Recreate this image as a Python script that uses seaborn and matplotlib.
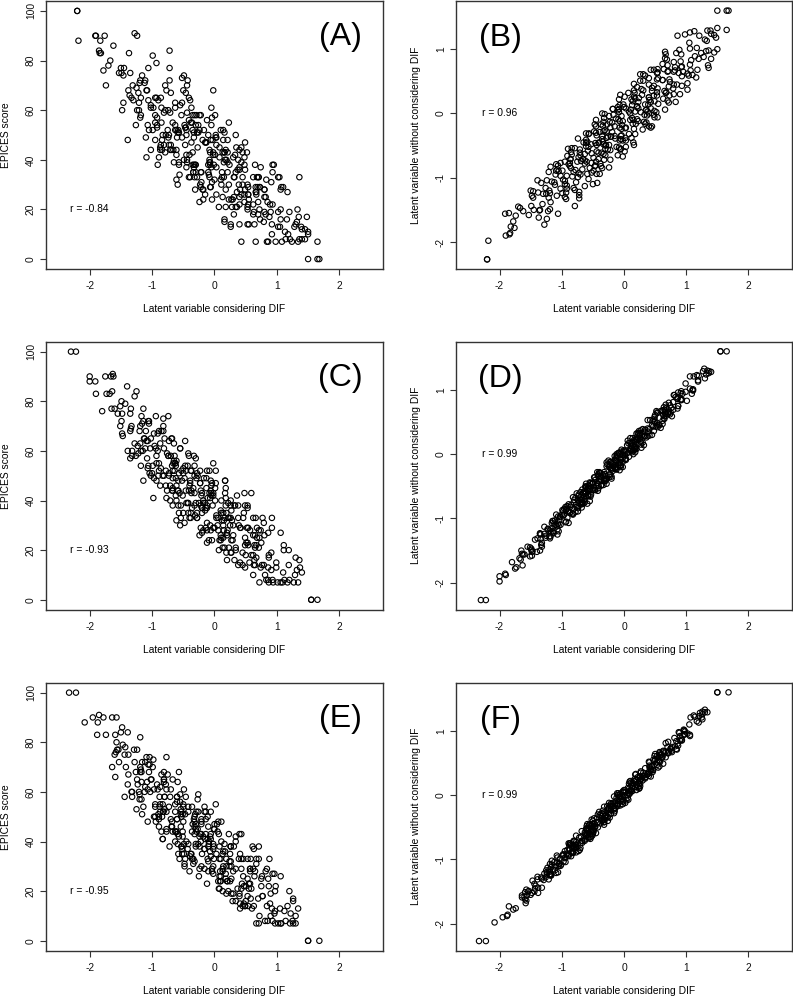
import matplotlib
matplotlib.use("Agg")
import matplotlib.pyplot as plt
import seaborn as sns
import pandas as pd

# latent variable without considering DIF (y of right panels)
lat0 = [
    -2.27, -2.27, -1.98, -1.90, -1.88, -1.86, -1.78, -1.76,
    -1.62, -1.59, -1.64, -1.58,
    -1.55, -1.51, -1.56, -1.52, -1.49,
    -1.44, -1.38, -1.45, -1.41,
    -1.32, -1.28, -1.25, -1.30, -1.24, -1.31,
    -1.19, -1.24, -1.20, -1.17, -1.22, -1.16, -1.23,
    -1.07, -1.12, -1.08, -1.05, -1.10, -1.04, -1.11,
    -0.94, -0.99, -0.95, -0.92, -0.97, -0.91, -0.98, -0.94,
    -0.89, -0.85, -0.82, -0.87, -0.81, -0.88, -0.84, -0.89, -0.85, -0.82,
    -0.77, -0.71, -0.78, -0.74, -0.79, -0.75, -0.72, -0.77, -0.71,
    -0.65, -0.61, -0.66, -0.62, -0.59, -0.64, -0.58, -0.65, -0.61,
    -0.56, -0.52, -0.49, -0.54, -0.48, -0.55, -0.51, -0.56, -0.52, -0.49, -0.54,
    -0.38, -0.45, -0.41, -0.46, -0.42, -0.39, -0.44, -0.38, -0.45,
    -0.31, -0.36, -0.32, -0.29, -0.34, -0.28, -0.35, -0.31, -0.36,
    -0.20, -0.17, -0.22, -0.16, -0.23, -0.19, -0.24, -0.20, -0.17, -0.22, -0.16,
    -0.13, -0.09, -0.14, -0.10, -0.07, -0.12, -0.06, -0.13, -0.09,
    -0.02, 0.02, 0.05, 0.00, 0.06, -0.01, 0.03, -0.02, 0.02, 0.05,
    0.08, 0.14, 0.07, 0.11, 0.06, 0.10, 0.13, 0.08, 0.14, 0.07,
    0.23, 0.18, 0.22, 0.25, 0.20, 0.26, 0.19, 0.23,
    0.28, 0.32, 0.35, 0.30, 0.36, 0.29, 0.33, 0.28, 0.32,
    0.45, 0.40, 0.46, 0.39, 0.43, 0.38, 0.42, 0.45,
    0.53, 0.59, 0.52, 0.56, 0.51, 0.55, 0.58,
    0.63, 0.69, 0.62, 0.66, 0.61, 0.65, 0.68, 0.63,
    0.76, 0.69, 0.73, 0.68, 0.72, 0.75,
    0.86, 0.92, 0.85, 0.89, 0.84, 0.88,
    1.01, 0.96, 1.02, 0.95, 0.99, 0.94,
    1.10, 1.13,
    1.23, 1.29, 1.22, 1.26, 1.21,
    1.30, 1.33, 1.28,
    1.60, 1.60, 1.60,
    # second block of respondents
    -1.68, -1.73,
    -1.50, -1.56, -1.52,
    -1.50, -1.44, -1.47,
    -1.28, -1.33, -1.25, -1.31, -1.27,
    -1.23, -1.17, -1.20, -1.16, -1.21, -1.13,
    -1.06, -1.02, -1.10, -1.04, -1.07, -1.03, -1.08,
    -0.87, -0.93, -0.89, -0.97, -0.91, -0.94, -0.90, -0.95,
    -0.75, -0.81, -0.77, -0.85, -0.79, -0.82, -0.78, -0.83, -0.75,
    -0.71, -0.67, -0.75, -0.69, -0.72, -0.68, -0.73, -0.65, -0.71,
    -0.55, -0.63, -0.57, -0.60, -0.56, -0.61, -0.53, -0.59, -0.55, -0.63,
    -0.46, -0.49, -0.45, -0.50, -0.42, -0.48, -0.44, -0.52, -0.46, -0.49,
    -0.35, -0.40, -0.32, -0.38, -0.34, -0.42, -0.36, -0.39, -0.35, -0.40,
    -0.22, -0.28, -0.24, -0.32, -0.26, -0.29, -0.25, -0.30, -0.22, -0.28,
    -0.12, -0.20, -0.14, -0.17, -0.13, -0.18, -0.10, -0.16, -0.12, -0.20,
    -0.04, -0.07, -0.03, -0.08, 0.00, -0.06, -0.02, -0.10, -0.04,
    0.03, 0.07, 0.02, 0.10, 0.04, 0.08, 0.00, 0.06, 0.03,
    0.18, 0.13, 0.21, 0.15, 0.19, 0.11, 0.17, 0.14, 0.18,
    0.24, 0.32, 0.26, 0.30, 0.22, 0.28, 0.25, 0.29,
    0.35, 0.43, 0.37, 0.41, 0.33, 0.39, 0.36,
    0.52, 0.47, 0.55, 0.49, 0.53, 0.45, 0.51,
    0.60, 0.64, 0.59, 0.67, 0.61, 0.65,
    0.65, 0.71, 0.68, 0.72, 0.67, 0.75,
    0.81, 0.85, 0.77, 0.83, 0.80,
    0.97, 0.92, 1.00, 0.94, 0.98,
    1.15, 1.21, 1.18,
    1.29, 1.24,
]

# latent variable considering DIF, model of panels A/B
dif_ab = [
    -2.20, -2.20, -2.18, -1.90, -1.84, -1.83, -1.76, -1.82,
    -1.37, -1.74, -1.24, -1.53,
    -1.85, -1.36, -1.06, -1.62, -1.19,
    -1.49, -1.18, -1.70, -1.31,
    -0.72, -1.48, -1.25, -0.95, -0.99, -1.46,
    -0.79, -1.19, -1.50, -1.02, -0.72, -1.26, -0.93,
    -1.12, -0.92, -1.33, -0.95, -0.50, -1.24, -1.11,
    -0.59, -0.74, -1.10, -0.52, -0.92, -1.21, -0.83, -0.44,
    -0.99, -0.55, -0.87, -0.67, -1.06, -0.78, -0.24, -1.09, -0.85, -0.47,
    -0.52, -0.86, -0.38, -0.69, -1.09, -0.60, -0.22, -0.87, -0.41,
    -0.70, -0.41, -0.91, -0.52, 0.01, -0.84, -0.58, -0.30, -0.36,
    -0.71, -0.12, -0.44, -0.84, -0.33, -0.05, -0.61, -0.26, -0.57, -0.29, -0.79,
    -0.28, 0.15, -0.61, -0.46, -0.07, -0.14, -0.59, 0.02, -0.40,
    -0.61, -0.21, 0.18, -0.39, -0.04, -0.33, -0.15, -0.56, -0.26,
    0.40, -0.37, -0.22, 0.19, 0.02, -0.34, 0.16, -0.15, -0.47, -0.07, 0.34,
    -0.23, 0.21, -0.19, 0.10, -0.32, -0.02, 0.54, -0.33, -0.09,
    0.33, 0.27, -0.10, 0.40, 0.11, -0.31, 0.18, 0.48, -0.08, 0.35,
    0.03, 0.34, -0.18, 0.21, 0.66, -0.10, 0.13, 0.43, 0.39, -0.08,
    0.63, 0.23, -0.08, 0.40, 0.70, 0.16, 0.49, 0.18,
    0.48, 0.07, 0.45, 0.90, 0.16, 0.29, 0.68, 0.53, 0.17,
    0.85, 0.45, 0.16, 0.54, 0.93, 0.28, 0.72, 0.40,
    0.73, 0.34, 0.62, 1.16, 0.31, 0.55, 0.93,
    0.88, 0.54, 1.02, 0.71, 0.31, 0.80, 1.18, 0.53,
    1.06, 0.64, 0.93, 0.43, 0.82, 1.35,
    0.66, 0.92, 1.20, 1.14, 0.69, 1.28,
    1.06, 0.66, 1.17, 1.45, 0.89, 1.24,
    1.05, 1.33,
    0.98, 1.39, 1.45, 1.06, 1.21,
    1.65, 1.50, 1.13,
    1.50, 1.65, 1.68,
    # second block
    -1.78, -1.28,
    -1.35, -1.91, -1.22,
    -1.45, -0.79, -1.67,
    -1.08, -0.93, -1.30, -1.21, -0.72,
    -1.38, -0.92, -1.20, -0.81, -1.46, -0.63,
    -1.16, -0.57, -0.95, -1.39, -0.77, -0.98, -0.43,
    -1.07, -0.73, -0.49, -1.02, -0.81, -0.39, -1.05, -0.70,
    -0.75, -0.46, -1.02, -0.35, -0.89, -0.37, -0.63, -1.18, -0.45,
    -0.66, -0.02, -0.95, -0.49, -0.32, -0.73, -0.63, -0.10, -0.86,
    -0.30, -0.63, -0.22, -0.85, -0.06, -0.71, -0.08, -0.44, -0.90, -0.33,
    -0.41, 0.16, -0.65, -0.30, -0.02, -0.53, -0.34, 0.03, -0.61, -0.24,
    -0.35, -0.05, -0.57, 0.12, -0.44, 0.03, -0.21, -0.74, -0.05, -0.35,
    0.43, -0.48, -0.04, 0.08, -0.31, -0.19, 0.30, -0.45, 0.03, -0.28,
    0.23, -0.45, 0.36, -0.27, 0.32, -0.03, -0.45, 0.14, -0.07, 0.45,
    -0.24, 0.13, 0.37, -0.13, 0.10, 0.49, -0.17, 0.15, -0.04,
    0.38, -0.18, 0.52, 0.00, 0.49, 0.23, -0.35, 0.36, 0.08,
    0.83, -0.07, 0.41, 0.55, 0.14, 0.21, 0.72, -0.01, 0.43,
    0.24, 0.67, 0.01, 0.80, 0.12, 0.73, 0.40, -0.06,
    0.65, 0.48, 1.02, 0.21, 0.53, 0.79, 0.31,
    0.62, 1.02, 0.40, 0.74, 0.53, 0.80, 0.26,
    1.10, 0.54, 1.04, 0.82, 0.26, 0.95,
    0.70, 1.36, 0.48, 0.92, 1.07, 0.70,
    0.91, 1.40, 0.62, 1.08, 0.80,
    1.32, 0.67, 1.50, 0.84, 1.36,
    1.30, 0.86, 1.48,
    1.34, 1.40,
]

# latent variable considering DIF, model of panels C/D
dif_cd = [
    -2.30, -2.22, -2.00, -2.00, -1.90, -1.91, -1.75, -1.73,
    -1.68, -1.51, -1.66, -1.48,
    -1.64, -1.47, -1.60, -1.40, -1.49,
    -1.55, -1.32, -1.51, -1.33,
    -1.34, -1.18, -1.34, -1.26, -1.28, -1.19,
    -1.19, -1.35, -1.14, -1.23, -1.14, -1.18, -1.13,
    -1.16, -1.08, -1.12, -0.93, -1.10, -1.15, -1.05,
    -1.00, -0.91, -0.97, -0.82, -1.06, -0.87, -1.02, -0.82,
    -0.89, -0.96, -0.76, -0.93, -0.73, -0.90, -0.74, -0.98, -0.81, -0.86,
    -0.65, -0.71, -0.89, -0.68, -0.85, -0.67, -0.74, -0.67, -0.80,
    -0.61, -0.65, -0.54, -0.62, -0.70, -0.58, -0.64, -0.57, -0.63,
    -0.46, -0.61, -0.45, -0.58, -0.36, -0.55, -0.62, -0.50, -0.58, -0.41, -0.56,
    -0.28, -0.54, -0.37, -0.50, -0.30, -0.39, -0.55, -0.32, -0.51,
    -0.23, -0.38, -0.22, -0.38, -0.30, -0.32, -0.23, -0.31, -0.47,
    -0.14, -0.23, -0.14, -0.18, -0.13, -0.28, -0.20, -0.24, -0.05, -0.22, -0.27,
    -0.07, -0.15, -0.06, -0.12, 0.03, -0.21, -0.02, -0.17, 0.03,
    -0.02, -0.09, 0.11, -0.06, 0.14, -0.03, 0.13, -0.11, 0.06, 0.01,
    0.20, 0.14, -0.04, 0.17, 0.00, 0.18, 0.11, 0.18, 0.05, 0.11,
    0.19, 0.30, 0.22, 0.14, 0.26, 0.20, 0.27, 0.21,
    0.38, 0.23, 0.39, 0.26, 0.48, 0.29, 0.22, 0.34, 0.26,
    0.53, 0.38, 0.56, 0.30, 0.47, 0.34, 0.54, 0.45,
    0.42, 0.65, 0.46, 0.64, 0.49, 0.65, 0.49,
    0.67, 0.65, 0.74, 0.66, 0.50, 0.71, 0.62, 0.71,
    0.74, 0.79, 0.64, 0.72, 0.68, 0.87,
    0.86, 0.81, 0.91, 0.83, 0.92, 0.86,
    1.11, 0.87, 1.06, 0.91, 1.11, 0.94,
    0.99, 1.19,
    1.17, 1.37, 1.20, 1.36, 1.12,
    1.34, 1.29, 1.40,
    1.55, 1.65, 1.55,
    # second block
    -1.80, -1.63,
    -1.35, -1.62, -1.48,
    -1.65, -1.32, -1.49,
    -1.20, -1.43, -1.07, -1.39, -1.25,
    -1.35, -1.07, -1.05, -1.22, -1.17, -1.28,
    -0.94, -1.04, -1.02, -1.14, -0.89, -1.11, -1.06,
    -0.99, -0.83, -0.74, -1.03, -0.87, -1.09, -0.78, -0.97,
    -0.67, -0.91, -0.59, -0.93, -0.77, -0.94, -0.68, -0.68, -0.81,
    -0.67, -0.82, -0.63, -0.71, -0.64, -0.78, -0.55, -0.73, -0.69,
    -0.67, -0.53, -0.42, -0.66, -0.52, -0.76, -0.41, -0.61, -0.47, -0.73,
    -0.28, -0.57, -0.43, -0.62, -0.32, -0.33, -0.50, -0.48, -0.61, -0.37,
    -0.37, -0.32, -0.42, -0.20, -0.42, -0.40, -0.48, -0.29, -0.20, -0.46,
    -0.18, -0.43, -0.12, -0.34, -0.18, -0.39, -0.07, -0.38, -0.20, -0.40,
    -0.02, -0.05, -0.20, -0.13, -0.28, -0.06, -0.12, -0.08, -0.22, -0.02,
    -0.12, -0.05, -0.15, 0.02, 0.15, -0.12, 0.02, -0.25, 0.08,
    0.01, 0.15, -0.08, 0.28, -0.04, 0.10, -0.12, 0.16, 0.18,
    0.12, 0.17, 0.06, 0.27, 0.17, 0.19, 0.07, 0.32, 0.10,
    0.26, 0.20, 0.36, 0.45, 0.16, 0.32, 0.10, 0.41,
    0.33, 0.51, 0.27, 0.59, 0.25, 0.41, 0.24,
    0.62, 0.62, 0.49, 0.53, 0.38, 0.57, 0.49,
    0.68, 0.54, 0.77, 0.59, 0.63, 0.53,
    0.75, 0.86, 0.62, 0.76, 0.52, 0.87,
    0.79, 0.93, 0.67, 1.01, 0.72,
    0.99, 0.80, 1.10, 1.09, 0.92,
    1.19, 1.06, 1.30,
    1.27, 1.32,
]

# latent variable considering DIF, model of panels E/F
dif_ef = [
    -2.33, -2.22, -2.08, -1.95, -1.88, -1.87, -1.78, -1.74,
    -1.59, -1.64, -1.57, -1.60,
    -1.50, -1.59, -1.56, -1.48, -1.53,
    -1.38, -1.44, -1.43, -1.42,
    -1.29, -1.33, -1.18, -1.32, -1.19, -1.39,
    -1.19, -1.20, -1.24, -1.11, -1.28, -1.14, -1.24,
    -1.04, -1.17, -1.01, -1.07, -1.05, -1.12, -1.11,
    -0.90, -1.03, -0.89, -0.98, -0.95, -0.92, -0.95, -0.99,
    -0.82, -0.87, -0.77, -0.95, -0.81, -0.84, -0.88, -0.83, -0.91, -0.80,
    -0.78, -0.68, -0.83, -0.67, -0.81, -0.70, -0.80, -0.77, -0.67,
    -0.69, -0.55, -0.72, -0.60, -0.60, -0.61, -0.63, -0.58, -0.63,
    -0.51, -0.60, -0.49, -0.50, -0.52, -0.49, -0.57, -0.54, -0.53, -0.46, -0.59,
    -0.31, -0.47, -0.36, -0.54, -0.42, -0.35, -0.48, -0.32, -0.51,
    -0.29, -0.37, -0.29, -0.34, -0.27, -0.30, -0.30, -0.39, -0.36,
    -0.16, -0.21, -0.16, -0.22, -0.21, -0.20, -0.21, -0.25, -0.10, -0.24, -0.11,
    -0.21, -0.09, -0.10, -0.14, -0.01, -0.18, -0.04, -0.14, -0.06,
    -0.07, 0.09, 0.03, 0.05, -0.02, -0.01, 0.07, -0.06, 0.08, -0.01,
    0.10, 0.13, 0.10, 0.06, 0.13, 0.08, 0.18, 0.00, 0.14, 0.11,
    0.19, 0.24, 0.16, 0.27, 0.19, 0.29, 0.14, 0.30,
    0.26, 0.37, 0.27, 0.30, 0.40, 0.25, 0.39, 0.22, 0.34,
    0.44, 0.43, 0.41, 0.46, 0.41, 0.43, 0.34, 0.45,
    0.57, 0.55, 0.58, 0.50, 0.53, 0.54, 0.61,
    0.58, 0.76, 0.60, 0.71, 0.53, 0.65, 0.72, 0.59,
    0.82, 0.63, 0.75, 0.67, 0.75, 0.70,
    0.93, 0.90, 0.90, 0.81, 0.84, 0.92,
    0.97, 1.02, 0.96, 0.97, 0.98, 0.97,
    1.05, 1.20,
    1.21, 1.34, 1.14, 1.26, 1.25,
    1.26, 1.30, 1.22,
    1.50, 1.68, 1.50,
    # second block
    -1.58, -1.85,
    -1.44, -1.64, -1.38,
    -1.54, -1.32, -1.57,
    -1.26, -1.47, -1.17, -1.21, -1.39,
    -1.17, -1.25, -1.06, -1.20, -1.09, -1.23,
    -1.04, -1.16, -1.02, -0.94, -1.19, -0.97, -1.16,
    -0.73, -0.97, -0.77, -1.07, -0.89, -1.08, -0.82, -0.85,
    -0.87, -0.75, -0.85, -0.71, -0.83, -0.70, -0.88, -0.81, -0.89,
    -0.63, -0.57, -0.87, -0.63, -0.80, -0.54, -0.77, -0.53, -0.81,
    -0.53, -0.77, -0.49, -0.50, -0.68, -0.55, -0.61, -0.45, -0.59, -0.51,
    -0.56, -0.47, -0.59, -0.42, -0.32, -0.60, -0.38, -0.60, -0.32, -0.53,
    -0.23, -0.50, -0.30, -0.52, -0.26, -0.32, -0.48, -0.33, -0.43, -0.26,
    -0.26, -0.16, -0.34, -0.30, -0.40, -0.21, -0.15, -0.42, -0.16, -0.36,
    0.02, -0.24, -0.02, -0.27, -0.11, -0.32, -0.02, -0.06, -0.24, -0.14,
    -0.12, 0.07, -0.07, 0.04, -0.10, -0.04, -0.16, -0.02, 0.06,
    -0.09, 0.13, -0.06, 0.24, 0.00, 0.20, -0.10, 0.08, -0.11,
    0.26, 0.23, 0.09, 0.21, 0.11, 0.25, 0.13, 0.26, 0.08,
    0.26, 0.18, 0.34, 0.40, 0.10, 0.34, 0.17, 0.43,
    0.31, 0.55, 0.27, 0.43, 0.19, 0.47, 0.46,
    0.40, 0.53, 0.47, 0.63, 0.49, 0.57, 0.41,
    0.62, 0.50, 0.67, 0.77, 0.49, 0.71,
    0.57, 0.85, 0.64, 0.84, 0.57, 0.77,
    0.67, 0.93, 0.87, 0.71, 0.86,
    0.89, 1.06, 0.96, 1.06, 0.88,
    1.17, 1.07, 1.26,
    1.30, 1.12,
]

# EPICES score (y of left panels)
epices = [
    100, 100, 88, 90, 83, 88, 90, 83,
    83, 70, 90, 75,
    84, 66, 77, 86, 72,
    75, 58, 78, 70,
    77, 60, 69, 58, 82, 63,
    70, 57, 77, 62, 72, 54, 65,
    71, 57, 65, 48, 68, 60, 72,
    51, 60, 49, 73, 54, 63, 50, 70,
    52, 62, 44, 55, 64, 50, 58, 41, 61, 53,
    63, 46, 55, 44, 68, 49, 58, 45, 65,
    46, 56, 38, 49, 58, 44, 52, 35, 55,
    44, 56, 39, 48, 37, 61, 42, 51, 38, 58, 43,
    51, 33, 44, 53, 39, 47, 30, 50, 42,
    52, 35, 44, 33, 57, 38, 47, 34, 54,
    37, 47, 29, 40, 49, 35, 43, 26, 46, 38, 50,
    30, 39, 28, 52, 33, 42, 29, 49, 34,
    42, 24, 35, 44, 30, 38, 21, 41, 33, 45,
    26, 35, 24, 48, 29, 38, 25, 45, 30, 40,
    19, 30, 39, 25, 33, 16, 36, 28,
    38, 21, 30, 19, 43, 24, 33, 20, 40,
    23, 33, 15, 26, 35, 21, 29, 14,
    29, 21, 33, 16, 25, 14, 38,
    17, 26, 13, 33, 18, 28, 10, 21,
    28, 14, 22, 7, 25, 17,
    27, 10, 19, 8, 29, 13,
    20, 7, 27, 12, 22, 7,
    13, 20,
    7, 13, 8, 16, 8,
    7, 10, 11,
    0, 0, 0,
    # second block
    76, 91,
    75, 90, 67,
    77, 60, 80,
    68, 79, 64, 60, 84,
    68, 53, 71, 59, 74, 63,
    74, 51, 65, 48, 68, 61, 72,
    54, 50, 74, 61, 46, 64, 52, 67,
    52, 67, 44, 58, 41, 61, 54, 65, 50,
    44, 68, 55, 40, 58, 46, 61, 50, 65,
    38, 52, 35, 55, 48, 59, 44, 40, 64, 51,
    33, 51, 39, 54, 43, 58, 35, 49, 32, 52,
    43, 54, 39, 35, 59, 46, 31, 49, 37, 52,
    39, 54, 31, 45, 28, 48, 41, 52, 37, 33,
    55, 42, 27, 45, 33, 48, 37, 52, 29, 43,
    23, 43, 36, 47, 32, 28, 52, 39, 24,
    40, 28, 43, 32, 47, 24, 38, 21, 41,
    32, 43, 28, 24, 48, 35, 20, 38, 26,
    38, 27, 42, 19, 33, 16, 36, 29,
    38, 23, 19, 43, 30, 15, 33,
    18, 33, 22, 37, 14, 28, 13,
    29, 22, 33, 18, 14, 38,
    23, 8, 26, 14, 29, 18,
    31, 8, 22, 7, 25,
    15, 26, 11, 7, 33,
    14, 7, 17,
    7, 12,
]

panel_labels = ["(A)", "(B)", "(C)", "(D)", "(E)", "(F)"]
r_texts = ["r = -0.84", "r = 0.96", "r = -0.93", "r = 0.99", "r = -0.95", "r = 0.99"]
x_ticks = [-2, -1, 0, 1, 2]
score_ticks = [0, 20, 40, 60, 80, 100]
latent_ticks = [-2, -1, 0, 1]

df = pd.DataFrame({"lat0": lat0, "ab": dif_ab, "cd": dif_cd, "ef": dif_ef, "epices": epices})

sns.set_theme(style="ticks")
plt.rcParams["font.family"] = ["Liberation Sans", "DejaVu Sans"]
plt.rcParams["axes.unicode_minus"] = False
plt.rcParams["text.color"] = "black"
plt.rcParams["axes.labelcolor"] = "black"

fig = plt.figure(figsize=(7.93, 10), dpi=100)

W, H = 793.0, 1000.0
lefts = [46, 456]
widths = [337, 336]
tops = [1, 341.7, 682.7]
box_h = 268
fs = 7.4

for row, xcol in enumerate(["ab", "cd", "ef"]):
    for col in range(2):
        i = row * 2 + col
        ax = fig.add_axes([lefts[col] / W, 1 - (tops[row] + box_h) / H,
                           widths[col] / W, box_h / H])
        ycol = "epices" if col == 0 else "lat0"
        sns.scatterplot(data=df, x=xcol, y=ycol, ax=ax, s=15, marker="o",
                        facecolor="none", edgecolor="black", linewidth=0.8)
        ax.set_xlim(-2.7, 2.7)
        ax.set_xticks(x_ticks)
        if col == 0:
            ax.set_ylim(-4, 104)
            ax.set_yticks(score_ticks)
            ax.set_ylabel("EPICES score", fontsize=fs)
            ax.text(2.02, 89.5, panel_labels[i], fontsize=23, ha="center", va="center",
                    color="black")
            ax.text(-2.0, 20, r_texts[i], fontsize=fs, ha="center", va="center",
                    color="black")
        else:
            ax.set_ylim(-2.42, 1.75)
            ax.set_yticks(latent_ticks)
            ax.set_ylabel("Latent variable without considering DIF", fontsize=fs)
            ax.text(-1.98, 1.17, panel_labels[i], fontsize=23, ha="center", va="center",
                    color="black")
            ax.text(-2.0, 0.0, r_texts[i], fontsize=fs, ha="center", va="center",
                    color="black")
        ax.set_xlabel("Latent variable considering DIF", fontsize=fs)
        ax.xaxis.set_label_coords(0.5, -0.132)
        ax.yaxis.set_label_coords(-0.104, 0.5)

        for sp in ax.spines.values():
            sp.set_visible(True)
            sp.set_color("#333333")
            sp.set_linewidth(1.0)
        ax.tick_params(axis="both", direction="out", length=4.3, width=0.8,
                       color="#333333", labelsize=fs, labelcolor="#111111")
        ax.tick_params(axis="x", pad=4.3)
        ax.tick_params(axis="y", pad=2.9, labelrotation=90)
        for lab in ax.get_yticklabels():
            lab.set_va("center")

fig.savefig("out.png", dpi=100, facecolor="white")
